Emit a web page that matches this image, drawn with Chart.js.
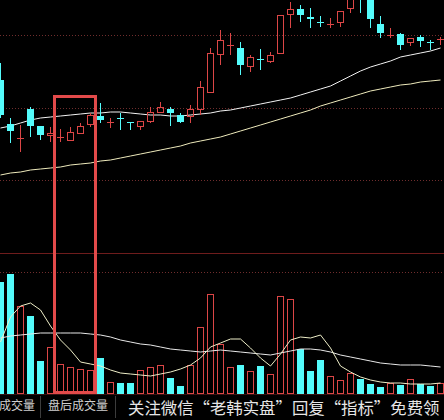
<!DOCTYPE html>
<html><head><meta charset="utf-8">
<script src="https://cdn.jsdelivr.net/npm/chart.js@4.4.0/dist/chart.umd.min.js"></script>
<style>
html,body{margin:0;padding:0;background:#000;width:444px;height:420px;overflow:hidden;}
#wrap{position:relative;width:444px;height:420px;background:#000;font-family:"Noto Sans CJK SC","Noto Sans",sans-serif;}
canvas{position:absolute;left:0;}
#pc{top:0;}
#vc{top:253px;}
.hline{position:absolute;left:0;width:444px;height:1px;}
.vline{position:absolute;width:1px;background:#3c3c3c;top:396px;height:22px;}
#hl{position:absolute;border:3px solid #e24a4a;box-sizing:border-box;}
.tab{position:absolute;top:396px;height:18px;line-height:18px;font-size:12px;color:#cfcfcf;white-space:nowrap;}
#note{position:absolute;left:128px;top:394px;height:26px;line-height:26px;font-size:16.4px;color:#e6e6e6;white-space:nowrap;}
</style></head>
<body><div id="wrap">
<canvas id="pc" width="444" height="253"></canvas>
<canvas id="vc" width="444" height="141"></canvas>
<div class="hline" style="top:253px;background:#6e1c1c"></div>
<div class="hline" style="top:394px;background:#3a1414"></div>
<div class="tab" style="left:-1px">成交量</div>
<div class="vline" style="left:40px"></div>
<div class="tab" style="left:48px">盘后成交量</div>
<div class="vline" style="left:115px"></div>
<div id="note">关注微信“老韩实盘”回复“指标”免费领</div>
<div id="hl"></div>
</div>
<script>
// ---- data ----
const openP  = [11.20,10.76,10.61,10.91,10.74,10.64,10.62,10.59,10.66,10.75,10.84,10.77,10.82,10.78,10.73,10.78,10.87,10.91,10.85,10.83,10.90,11.07,11.45,11.54,11.52,11.33,11.41,11.38,11.46,11.85,11.91,11.83,11.78,11.75,11.77,11.91,12.20,12.05,11.76,11.64,11.66,11.57,11.63,11.58,11.60];
const highP  = [11.37,10.82,10.75,10.93,10.74,10.73,10.71,10.73,10.77,10.87,10.97,10.82,10.87,10.78,10.79,10.93,10.98,10.93,10.87,10.95,11.19,11.52,11.70,11.67,11.58,11.45,11.51,11.48,11.85,11.98,11.95,11.92,11.84,11.82,11.89,12.05,12.25,12.10,11.84,11.72,11.67,11.62,11.65,11.60,11.63];
const lowP   = [10.82,10.57,10.48,10.63,10.60,10.58,10.58,10.59,10.66,10.73,10.77,10.72,10.70,10.70,10.70,10.77,10.87,10.74,10.77,10.77,10.85,11.07,11.35,11.45,11.25,11.28,11.30,11.37,11.46,11.72,11.78,11.72,11.73,11.72,11.73,11.87,11.87,11.72,11.62,11.62,11.50,11.54,11.53,11.50,11.55];
const closeP = [10.85,10.69,10.62,10.74,10.65,10.67,10.63,10.68,10.74,10.85,10.80,10.78,10.81,10.77,10.79,10.88,10.93,10.87,10.78,10.91,11.13,11.47,11.60,11.55,11.35,11.43,11.40,11.45,11.85,11.91,11.85,11.81,11.77,11.76,11.89,12.02,12.05,11.81,11.67,11.65,11.55,11.62,11.59,11.57,11.61];
const maFast = [10.72,10.74,10.77,10.80,10.82,10.83,10.84,10.85,10.86,10.87,10.87,10.88,10.88,10.87,10.86,10.85,10.85,10.84,10.84,10.85,10.86,10.87,10.89,10.90,10.92,10.94,10.96,10.98,11.00,11.02,11.05,11.08,11.11,11.14,11.19,11.24,11.29,11.33,11.36,11.39,11.43,11.45,11.47,11.49,11.52];
const maSlow = [10.25,10.27,10.28,10.30,10.31,10.32,10.33,10.35,10.36,10.37,10.39,10.40,10.42,10.44,10.46,10.48,10.50,10.52,10.54,10.57,10.59,10.61,10.63,10.66,10.69,10.72,10.75,10.78,10.81,10.84,10.87,10.90,10.94,10.97,11.00,11.03,11.06,11.09,11.11,11.13,11.15,11.16,11.18,11.19,11.20];
const volume = [11200,12000,8800,7800,3300,4700,3000,2700,2500,2400,3600,1200,1100,1100,2400,2700,2900,1600,800,2900,6700,10000,5000,2700,2900,2300,2800,2000,9800,9500,4500,2300,3400,1800,1400,2100,1500,1000,700,1100,900,1500,1000,800,1100];
const volMa5  = [5200,7700,8800,9100,8400,6800,5400,4400,3200,3000,2800,2400,2100,2000,1900,1800,2000,2200,2500,2900,3600,4700,5100,5500,5500,4600,3600,2800,4000,5400,5700,5600,5900,4600,2800,2200,1700,1400,1200,1100,1100,1000,1000,1000,1100];
const volMa10 = [5600,5800,5900,6000,6100,6100,6100,6100,6100,6000,5900,5700,5400,5200,5000,4900,4700,4500,4400,4300,4200,4300,4400,4300,4200,4100,4000,3900,4100,4300,4500,4500,4400,4200,3900,3700,3500,3300,3100,3000,2900,2900,2900,2800,2700];
const priceGrid = [11.64, 10.92, 10.20];
const volGrid = [12100];
const highlight = {from: 5.25, to: 9.65, topPrice: 11.05};

const RED = '#dc4646', CYAN = '#54fcfc';
const idx = openP.map((_, i) => i);
const up = idx.map(i => closeP[i] >= openP[i]);

const xScale = {type:'linear', min:-0.05, max:44.35, display:false, offset:false};
const base = {
  responsive:false, animation:false, events:[],
  layout:{padding:0},
  plugins:{legend:{display:false}, tooltip:{enabled:false}}
};
const barCommon = {grouped:false, inflateAmount:0, borderSkipped:false};

const priceChart = new Chart(document.getElementById('pc'), {
  type:'bar',
  data:{datasets:[
    Object.assign({label:'body', data: idx.map(i => ({x:i, y:[openP[i], closeP[i]]})),
      backgroundColor: idx.map(i => up[i] ? 'rgba(0,0,0,0)' : CYAN),
      borderColor: idx.map(i => up[i] ? RED : CYAN),
      borderWidth:1, barThickness:7}, barCommon),
    Object.assign({label:'upper', data: idx.map(i => ({x:i, y:[Math.max(openP[i], closeP[i]), highP[i]]})),
      backgroundColor: idx.map(i => up[i] ? RED : CYAN), borderWidth:0, barThickness:1}, barCommon),
    Object.assign({label:'lower', data: idx.map(i => ({x:i, y:[lowP[i], Math.min(openP[i], closeP[i])]})),
      backgroundColor: idx.map(i => up[i] ? RED : CYAN), borderWidth:0, barThickness:1}, barCommon),
    {type:'line', label:'MA1', data: idx.map(i => ({x:i, y:maFast[i]})), borderColor:'#f2f2f2', borderWidth:1, pointRadius:0, tension:0},
    {type:'line', label:'MA2', data: idx.map(i => ({x:i, y:maSlow[i]})), borderColor:'#eeeabc', borderWidth:1, pointRadius:0, tension:0}
  ]},
  options:Object.assign({}, base, {scales:{
    x:xScale,
    y:{type:'linear', min:9.47, max:12.00, display:true,
       afterBuildTicks: s => { s.ticks = priceGrid.map(v => ({value:v})); },
       ticks:{display:false}, border:{display:false, dash:[1,2]},
       grid:{color:'rgba(150,60,60,0.75)', drawTicks:false, lineWidth:1}}
  }})
});

const volChart = new Chart(document.getElementById('vc'), {
  type:'bar',
  data:{datasets:[
    {type:'line', label:'V5', data: idx.map(i => ({x:i, y:volMa5[i]})), borderColor:'#eeeec8', borderWidth:1, pointRadius:0, tension:0},
    {type:'line', label:'V10', data: idx.map(i => ({x:i, y:volMa10[i]})), borderColor:'#e8e8e8', borderWidth:1, pointRadius:0, tension:0},
    Object.assign({label:'vol', data: idx.map(i => ({x:i, y:volume[i]})),
      backgroundColor: idx.map(i => up[i] ? 'rgba(0,0,0,0)' : CYAN),
      borderColor: idx.map(i => up[i] ? RED : CYAN),
      borderWidth:1, barThickness:7}, barCommon)
  ]},
  options:Object.assign({}, base, {scales:{
    x:xScale,
    y:{type:'linear', min:0, max:14100, display:true,
       afterBuildTicks: s => { s.ticks = volGrid.map(v => ({value:v})); },
       ticks:{display:false}, border:{display:false, dash:[1,2]},
       grid:{color:'rgba(150,60,60,0.75)', drawTicks:false, lineWidth:1}}
  }})
});

// highlight box positioned from the charts' own scales
(function(){
  const xs = priceChart.scales.x, ys = priceChart.scales.y, vy = volChart.scales.y;
  const vTop = document.getElementById('vc').offsetTop;
  const left = xs.getPixelForValue(highlight.from);
  const right = xs.getPixelForValue(highlight.to);
  const top = ys.getPixelForValue(highlight.topPrice);
  const bottom = vTop + vy.getPixelForValue(0);
  const hl = document.getElementById('hl');
  hl.style.left = left + 'px'; hl.style.top = top + 'px';
  hl.style.width = (right - left) + 'px'; hl.style.height = (bottom - top) + 'px';
})();
</script>
</body></html>
